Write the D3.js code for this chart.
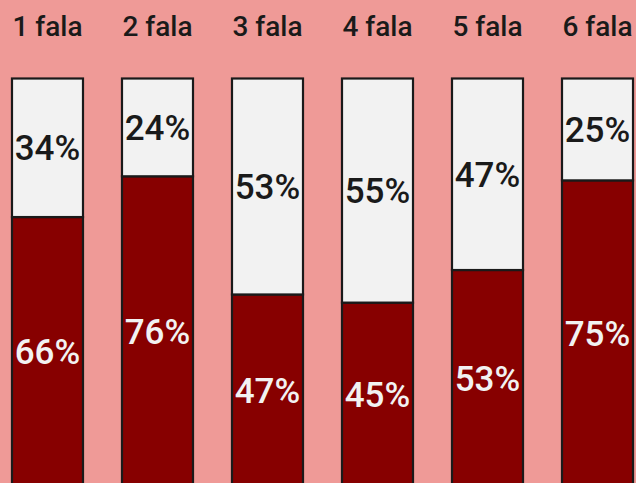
<!DOCTYPE html>
<html>
<head>
<meta charset="utf-8">
<script src="https://cdn.jsdelivr.net/npm/d3@7"></script>
<style>
  body { margin: 0; background: #ef9a97; }
  svg { display: block; }
  text { font-family: Roboto, "DejaVu Sans", sans-serif; }
</style>
</head>
<body>
<svg id="myGraph" width="636" height="483"></svg>
<script>
var svgWidth = 636, svgHeight = 483;

// dane
var categories = ["1 fala", "2 fala", "3 fala", "4 fala", "5 fala", "6 fala"];
var redValues = [66, 76, 47, 45, 53, 75];
var whiteValues = [34, 24, 53, 55, 47, 25];

var rows = categories.map(function(c, i){
  return { fala: c, red: redValues[i], white: whiteValues[i] };
});

var svg = d3.select("#myGraph");

svg.append("rect")
  .attr("width", svgWidth)
  .attr("height", svgHeight)
  .attr("fill", "#ef9a97");

var x = d3.scaleBand()
  .domain(categories)
  .range([0, 645])
  .paddingInner(0.3545)
  .paddingOuter(0.109);

var y = d3.scaleLinear()
  .domain([0, 100])
  .range([486, 78.5]);

var stack = d3.stack().keys(["red", "white"]);
var series = stack(rows);
var fills = { red: "#870000", white: "#f2f2f2" };
var textFills = { red: "#f2f2f2", white: "#1a1a1a" };

//słupki
var groups = svg.selectAll(".serie")
  .data(series)
  .enter()
  .append("g")
  .attr("class", "serie");

groups.selectAll("rect")
  .data(function(s){ return s.map(function(d){ d.key = s.key; return d; }); })
  .enter()
  .append("rect")
  .attr("x", function(d){ return x(d.data.fala); })
  .attr("y", function(d){ return y(d[1]); })
  .attr("width", x.bandwidth())
  .attr("height", function(d){ return y(d[0]) - y(d[1]); })
  .attr("fill", function(d){ return fills[d.key]; })
  .attr("stroke", "#1a1a1a")
  .attr("stroke-width", 2.2);

//etykiety procentowe
groups.selectAll("text")
  .data(function(s){ return s; })
  .enter()
  .append("text")
  .attr("x", function(d){ return x(d.data.fala) + x.bandwidth() / 2; })
  .attr("y", function(d){ return (y(d[0]) + y(d[1])) / 2; })
  .attr("text-anchor", "middle")
  .attr("dy", "0.36em")
  .attr("font-size", 35)
  .attr("font-weight", 500)
  .attr("fill", function(d){ return textFills[d.key]; })
  .text(function(d){ return d.data[d.key] + "%"; });

//nagłówki
svg.selectAll(".header")
  .data(categories)
  .enter()
  .append("text")
  .attr("class", "header")
  .attr("x", function(d){ return x(d) + x.bandwidth() / 2; })
  .attr("y", 35.5)
  .attr("text-anchor", "middle")
  .attr("font-size", 28)
  .attr("font-weight", 500)
  .attr("fill", "#1a1a1a")
  .text(function(d){ return d; });
</script>
</body>
</html>
